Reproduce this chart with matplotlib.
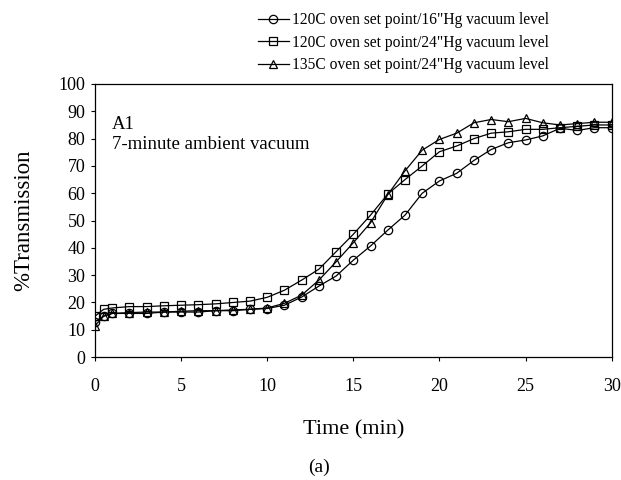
import matplotlib
matplotlib.use("Agg")
import matplotlib.pyplot as plt
from matplotlib.ticker import MultipleLocator

plt.rcParams["font.family"] = ["Liberation Serif", "DejaVu Serif"]

# time points (min)
time = [0, 0.5, 1, 2, 3, 4, 5, 6, 7, 8, 9, 10, 11, 12, 13, 14, 15, 16, 17, 18,
        19, 20, 21, 22, 23, 24, 25, 26, 27, 28, 29, 30]

# 120C / 16"Hg
t120_16 = [13, 15, 16, 16, 16, 16.5, 16.5, 16.5, 17, 17, 17.5, 17.8, 19, 22, 26, 29.7,
           35.5, 40.7, 46.5, 52, 60, 64.5, 67.3, 72, 76, 78.5, 79.5, 81, 83.8, 83, 84, 84]
# 120C / 24"Hg
t120_24 = [15, 17.5, 18, 18.5, 18.5, 18.8, 19, 19.2, 19.5, 20, 20.5, 21.9, 24.5, 28.2,
           32.2, 38.6, 45, 52, 59.7, 65, 70, 75.2, 77.3, 80, 82, 82.5, 83.4, 83.4, 84,
           84.5, 85, 85]
# 135C / 24"Hg
t135_24 = [11.5, 15, 16, 16.3, 16.5, 16.5, 16.8, 17, 17, 17.3, 17.5, 18, 19.7, 22.7,
           28.2, 34.9, 41.9, 49.2, 59.5, 68.2, 75.8, 79.7, 82, 85.8, 87, 86.2, 87.4,
           85.8, 85, 85.5, 86, 86]

labels = ['120C oven set point/16"Hg vacuum level',
          '120C oven set point/24"Hg vacuum level',
          '135C oven set point/24"Hg vacuum level']

fig = plt.figure(figsize=(6.21, 4.8), dpi=100)
ax = fig.add_axes([0.153, 0.256, 0.832, 0.569])

style = dict(color="black", lw=0.9, markersize=6, markerfacecolor="none",
             markeredgewidth=0.9)
l1, = ax.plot(time, t120_16, marker="o", label=labels[0], **style)
l2, = ax.plot(time, t120_24, marker="s", label=labels[1], **style)
l3, = ax.plot(time, t135_24, marker="^", label=labels[2], **style)

ax.set_xlim(0, 30)
ax.set_ylim(0, 100)
ax.xaxis.set_major_locator(MultipleLocator(5))
ax.yaxis.set_major_locator(MultipleLocator(10))
ax.tick_params(direction="out", labelsize=13, length=3, width=0.8)
ax.tick_params(axis="x", pad=12)
ax.tick_params(axis="y", pad=4)
for s in ax.spines.values():
    s.set_linewidth(0.9)

ax.text(1, 85, "A1", fontsize=13.5, va="center")
ax.text(1, 78, "7-minute ambient vacuum", fontsize=13.5, va="center")

ax.set_xlabel("Time (min)", fontsize=16)
ax.set_ylabel("%Transmission", fontsize=16.5)
ax.xaxis.set_label_coords(0.5, -0.232)
ax.yaxis.set_label_coords(-0.118, 0.5)

fig.legend(handles=[l1, l2, l3], loc="upper left", bbox_to_anchor=(0.415, 0.975),
           frameon=False, fontsize=11.2, handlelength=2.0, handletextpad=0.2,
           labelspacing=0.42, borderpad=0, borderaxespad=0)

fig.text(0.513, 0.027, "(a)", fontsize=14, ha="center", va="center")

fig.savefig("out.png", dpi=100)
